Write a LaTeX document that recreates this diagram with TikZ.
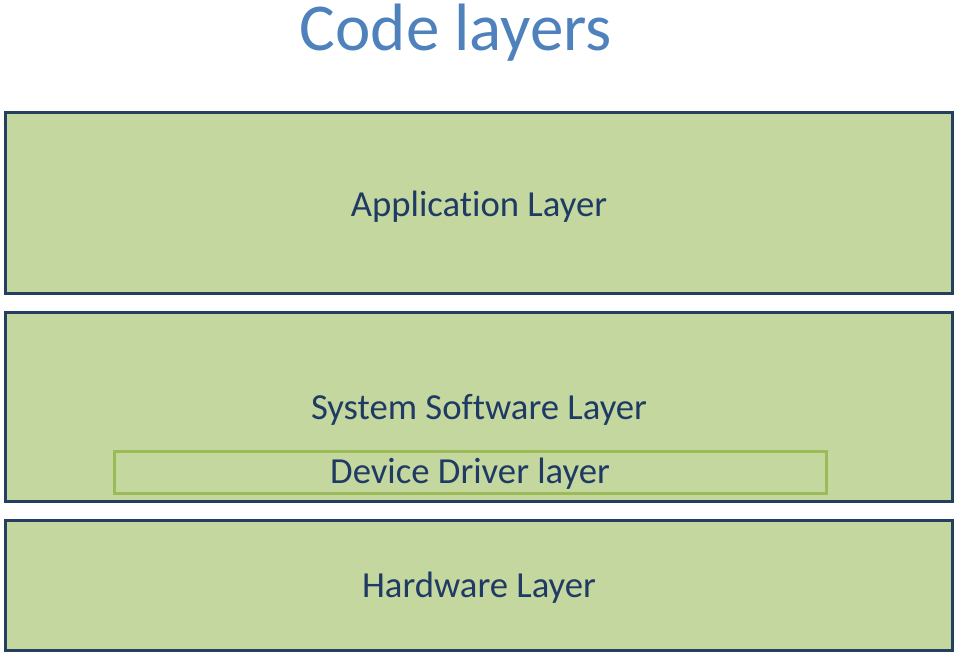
\documentclass[tikz,border=0pt]{standalone}
\usepackage{fontspec}
\setmainfont[Ligatures=NoCommon]{Carlito}
\definecolor{navy}{HTML}{243F60}
\definecolor{lay}{HTML}{C4D79E}
\definecolor{olive}{HTML}{9BBB59}
\definecolor{ttl}{HTML}{4F81BD}
\definecolor{txt}{HTML}{1F3A64}
\tikzset{
  layer/.style={draw=navy, fill=lay, line width=3pt},
  inner/.style={draw=olive, line width=3pt},
  lbl/.style={text=txt, font=\fontsize{36.7}{44}\selectfont, inner sep=0pt, anchor=base}
}
\begin{document}
\begin{tikzpicture}[x=1pt,y=-1pt]
\useasboundingbox (0,0) rectangle (960,654);
\node[text=ttl, font=\fontsize{67}{80}\selectfont, inner sep=0pt, anchor=base] (title) at (456,50) {Code layers};
\draw[layer] (5.5,112.5) rectangle (952.5,293.5);
\node[lbl] (app) at (479,216) {Application Layer};
\draw[layer] (5.5,312.5) rectangle (952.5,501.5);
\node[lbl] (sys) at (479,419) {System Software Layer};
\draw[inner] (114,451) rectangle (826,493);
\node[lbl] (dev) at (470,483) {Device Driver layer};
\draw[layer] (5.5,520.5) rectangle (952.5,650.5);
\node[lbl] (hw) at (479,597) {Hardware Layer};
\end{tikzpicture}
\end{document}
